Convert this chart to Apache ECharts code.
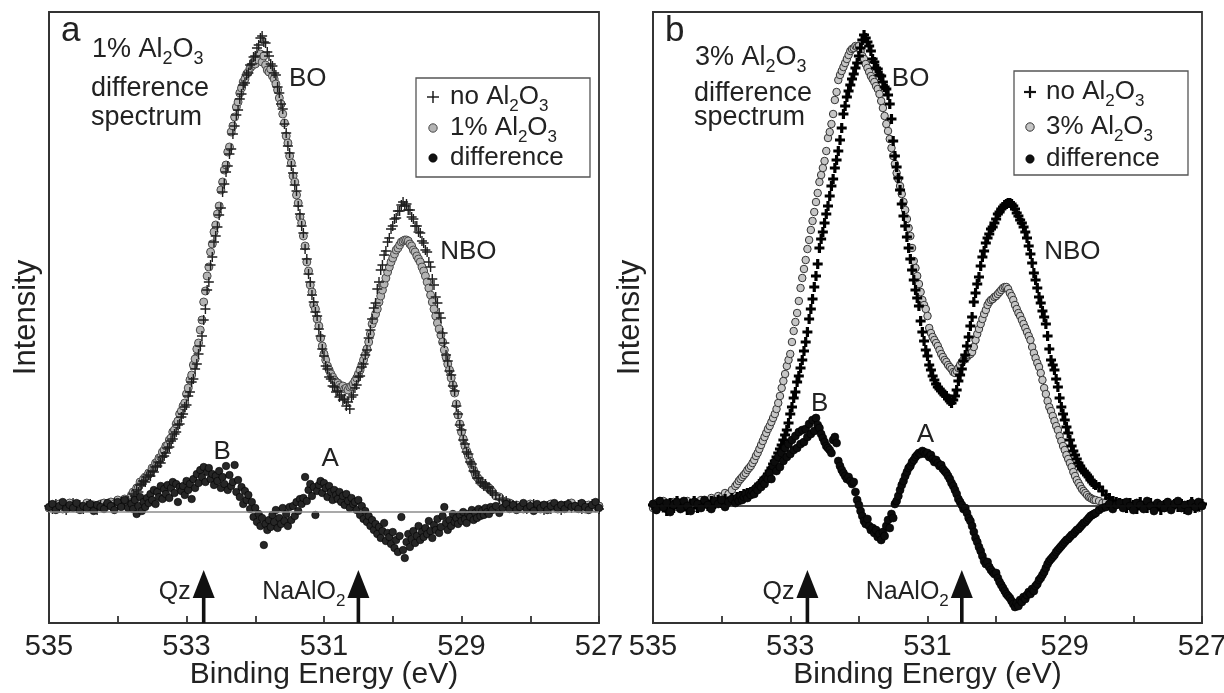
<!DOCTYPE html>
<html><head><meta charset="utf-8">
<script src="https://cdn.jsdelivr.net/npm/echarts@6/dist/echarts.min.js"></script>
<style>html,body{margin:0;padding:0;background:#fff}#c{width:1224px;height:693px}</style>
</head><body><div id="c"></div>
<script>
// ---- Binding energy grid (eV) shared by all spectra ----
const energy = [
535.00,534.95,534.90,534.85,534.80,534.75,534.70,534.65,
534.60,534.55,534.50,534.45,534.40,534.35,534.30,534.25,
534.20,534.15,534.10,534.05,534.00,533.95,533.90,533.85,
533.800,533.775,533.750,533.725,533.700,533.675,533.650,533.625,533.600,533.575,
533.550,533.525,533.500,533.475,533.450,533.425,533.400,533.375,533.350,533.325,
533.300,533.275,533.250,533.225,533.200,533.175,533.150,533.125,533.100,533.075,
533.050,533.025,533.000,532.975,532.950,532.925,532.900,532.875,532.850,532.825,
532.800,532.775,532.750,532.725,532.700,532.675,532.650,532.625,532.600,532.575,
532.550,532.525,532.500,532.475,532.450,532.425,532.400,532.375,532.350,532.325,
532.300,532.275,532.250,532.225,532.200,532.175,532.150,532.125,532.100,532.075,
532.050,532.025,532.000,531.975,531.950,531.925,531.900,531.875,531.850,531.825,
531.800,531.775,531.750,531.725,531.700,531.675,531.650,531.625,531.600,531.575,
531.550,531.525,531.500,531.475,531.450,531.425,531.400,531.375,531.350,531.325,
531.300,531.275,531.250,531.225,531.200,531.175,531.150,531.125,531.100,531.075,
531.050,531.025,531.000,530.975,530.950,530.925,530.900,530.875,530.850,530.825,
530.800,530.775,530.750,530.725,530.700,530.675,530.650,530.625,530.600,530.575,
530.550,530.525,530.500,530.475,530.450,530.425,530.400,530.375,530.350,530.325,
530.300,530.275,530.250,530.225,530.200,530.175,530.150,530.125,530.100,530.075,
530.050,530.025,530.000,529.975,529.950,529.925,529.900,529.875,529.850,529.825,
529.800,529.775,529.750,529.725,529.700,529.675,529.650,529.625,529.600,529.575,
529.550,529.525,529.500,529.475,529.450,529.425,529.400,529.375,529.350,529.325,
529.300,529.275,529.250,529.225,529.200,529.175,529.150,529.125,529.100,529.075,
529.050,529.025,529.000,528.975,528.950,528.925,528.900,528.875,528.850,528.825,
528.800,528.775,528.750,528.725,528.700,528.675,528.650,528.625,528.600,528.575,
528.55,528.50,528.45,528.40,528.35,528.30,528.25,528.20,
528.15,528.10,528.05,528.00,527.95,527.90,527.85,527.80,
527.75,527.70,527.65,527.60,527.55,527.50,527.45,527.40,
527.35,527.30,527.25,527.20,527.15,527.10,527.05,527.00
];

// ---- Panel a: intensities (arb. units) ----
const a_noAl2O3 = [
0.06,0.03,0.08,0.04,0.07,0.02,0.05,0.09,
0.04,0.07,0.03,0.06,0.08,0.05,0.02,0.07,
0.05,0.08,0.06,0.09,0.07,0.10,0.08,0.11,
0.12,0.18,0.16,0.22,0.20,0.27,0.28,0.31,0.30,0.35,
0.37,0.36,0.41,0.40,0.45,0.46,0.50,0.49,0.55,0.56,
0.59,0.64,0.65,0.71,0.73,0.78,0.80,0.87,0.88,0.95,
0.98,1.05,1.07,1.16,1.20,1.30,1.33,1.43,1.48,1.58,
1.66,1.76,1.92,2.03,2.22,2.30,2.47,2.55,2.70,2.76,
2.85,2.97,3.04,3.20,3.28,3.40,3.46,3.58,3.63,3.78,
3.86,3.97,4.02,4.13,4.18,4.27,4.29,4.37,4.39,4.47,
4.48,4.55,4.56,4.64,4.67,4.74,4.76,4.70,4.69,4.60,
4.56,4.48,4.46,4.39,4.37,4.25,4.19,4.08,4.03,3.88,
3.79,3.66,3.59,3.46,3.39,3.27,3.21,3.06,2.98,2.86,
2.79,2.63,2.53,2.38,2.30,2.17,2.10,2.00,1.96,1.83,
1.76,1.63,1.56,1.46,1.43,1.35,1.33,1.26,1.25,1.20,
1.21,1.15,1.17,1.12,1.13,1.06,1.10,1.03,1.15,1.17,
1.24,1.27,1.35,1.36,1.45,1.48,1.57,1.62,1.74,1.82,
1.93,2.04,2.09,2.23,2.30,2.42,2.47,2.57,2.61,2.70,
2.74,2.83,2.86,2.93,2.94,3.01,3.01,3.07,3.10,3.06,
3.08,3.02,3.02,2.95,2.93,2.86,2.86,2.80,2.79,2.71,
2.69,2.62,2.60,2.50,2.45,2.33,2.27,2.15,2.09,1.99,
1.94,1.79,1.69,1.57,1.51,1.41,1.37,1.26,1.21,1.06,
0.98,0.87,0.82,0.72,0.68,0.60,0.58,0.50,0.48,0.41,
0.40,0.34,0.34,0.29,0.30,0.26,0.28,0.24,0.25,0.21,
0.19,0.17,0.13,0.12,0.11,0.08,0.07,0.06,
0.04,0.07,0.03,0.06,0.08,0.04,0.05,0.02,
0.06,0.03,0.07,0.05,0.02,0.06,0.08,0.04,
0.05,0.07,0.03,0.06,0.04,0.08,0.05,0.03
];
const a_1pctAl2O3 = [
0.04,0.07,0.05,0.08,0.03,0.06,0.09,0.05,
0.07,0.04,0.06,0.09,0.04,0.07,0.06,0.08,
0.09,0.06,0.10,0.08,0.12,0.09,0.13,0.12,
0.17,0.20,0.19,0.24,0.25,0.30,0.29,0.33,0.35,0.36,
0.39,0.39,0.44,0.44,0.49,0.50,0.54,0.55,0.60,0.62,
0.66,0.67,0.72,0.74,0.80,0.82,0.88,0.91,0.98,1.01,
1.06,1.09,1.18,1.24,1.32,1.37,1.47,1.53,1.63,1.69,
1.82,1.92,2.10,2.21,2.36,2.45,2.60,2.68,2.80,2.87,
2.98,3.06,3.22,3.30,3.42,3.47,3.60,3.65,3.80,3.86,
3.95,4.05,4.10,4.19,4.24,4.30,4.33,4.38,4.40,4.44,
4.46,4.50,4.48,4.55,4.52,4.58,4.50,4.56,4.47,4.42,
4.40,4.43,4.36,4.33,4.28,4.22,4.14,4.08,3.98,3.89,
3.76,3.69,3.56,3.49,3.36,3.30,3.17,3.09,2.95,2.89,
2.76,2.66,2.50,2.41,2.27,2.20,2.07,2.03,1.93,1.86,
1.74,1.66,1.58,1.52,1.46,1.42,1.38,1.35,1.32,1.30,
1.29,1.27,1.25,1.26,1.23,1.24,1.22,1.25,1.26,1.28,
1.31,1.34,1.38,1.42,1.47,1.52,1.57,1.63,1.70,1.78,
1.88,1.92,1.98,2.03,2.10,2.16,2.22,2.28,2.34,2.40,
2.45,2.50,2.54,2.58,2.62,2.64,2.67,2.70,2.71,2.72,
2.72,2.71,2.68,2.66,2.62,2.60,2.56,2.53,2.50,2.45,
2.41,2.36,2.30,2.24,2.17,2.10,2.03,1.96,1.89,1.83,
1.77,1.70,1.62,1.55,1.48,1.42,1.34,1.27,1.19,1.08,
0.97,0.88,0.80,0.73,0.66,0.61,0.56,0.51,0.47,0.42,
0.38,0.35,0.33,0.30,0.29,0.27,0.26,0.25,0.24,0.22,
0.20,0.16,0.15,0.11,0.10,0.09,0.06,0.07,
0.05,0.03,0.06,0.08,0.04,0.06,0.03,0.07,
0.04,0.08,0.05,0.03,0.07,0.04,0.06,0.09,
0.06,0.04,0.08,0.03,0.07,0.05,0.04,0.06
];
const a_difference = [
0.05,0.08,0.02,0.06,0.10,0.03,0.07,0.04,
0.09,0.02,0.06,0.04,0.08,0.01,0.07,0.05,
0.03,0.09,0.06,0.02,0.10,0.05,0.12,0.04,
0.08,0.03,0.12,-0.02,0.06,0.15,0.01,0.10,0.05,0.14,
0.09,0.18,0.12,0.22,0.08,0.20,0.15,0.26,0.13,0.23,
0.18,0.27,0.14,0.24,0.30,0.19,0.28,0.10,0.25,0.21,
0.26,0.17,0.31,0.22,0.28,0.13,0.33,0.24,0.38,0.29,
0.42,0.35,0.45,0.30,0.40,0.44,0.33,0.38,0.27,0.36,
0.31,0.41,0.24,0.35,0.28,0.46,0.22,0.37,0.26,0.30,
0.47,0.20,0.32,0.15,0.25,0.08,0.21,0.12,0.17,0.03,
0.10,-0.05,0.04,-0.10,-0.02,-0.14,-0.06,-0.33,-0.12,-0.18,
-0.08,-0.15,-0.03,-0.10,0.02,-0.16,-0.06,-0.12,0.04,-0.09,
-0.02,-0.14,0.05,-0.08,0.06,-0.04,0.10,0.01,0.13,0.08,
0.14,0.35,0.11,0.22,0.28,0.16,0.25,-0.03,0.21,0.27,
0.31,0.19,0.29,0.24,0.15,0.26,0.20,0.12,0.22,0.17,
0.13,0.20,0.10,0.16,0.07,0.18,0.11,0.04,0.14,0.08,
0.10,0.02,0.12,-0.03,0.06,-0.07,0.01,-0.10,-0.04,-0.14,
-0.08,-0.18,-0.12,-0.22,-0.15,-0.26,-0.19,-0.11,-0.29,-0.21,
-0.25,-0.32,-0.20,-0.36,-0.28,-0.40,-0.24,-0.05,-0.38,-0.46,
-0.30,-0.22,-0.35,-0.27,-0.19,-0.31,-0.24,-0.14,-0.28,-0.20,
-0.25,-0.16,-0.22,-0.09,-0.19,-0.26,-0.13,-0.18,-0.07,-0.21,
-0.15,-0.04,0.05,-0.11,-0.18,-0.08,-0.14,-0.02,-0.10,-0.06,
-0.12,-0.03,-0.09,0.00,-0.07,-0.11,-0.02,-0.05,0.02,-0.08,
-0.01,-0.06,0.03,-0.04,0.01,-0.03,0.04,0.00,-0.02,0.05,
0.02,0.06,-0.01,0.04,0.08,0.03,0.07,0.02,
0.05,0.09,0.03,0.06,0.01,0.08,0.04,0.07,
0.02,0.06,0.09,0.04,0.07,0.03,0.08,0.05,
0.06,0.03,0.09,0.05,0.02,0.07,0.10,0.04
];

// ---- Panel b: intensities (arb. units) ----
const b_noAl2O3 = [
0.01,-0.03,0.04,0.00,-0.05,0.03,-0.02,0.05,
-0.01,0.03,-0.04,0.02,0.05,-0.02,0.01,0.04,
0.00,0.05,0.02,0.06,0.03,0.07,0.04,0.08,
0.06,0.09,0.07,0.10,0.09,0.12,0.11,0.13,0.12,0.14,
0.14,0.16,0.18,0.19,0.22,0.23,0.25,0.28,0.29,0.32,
0.35,0.38,0.42,0.45,0.49,0.53,0.57,0.61,0.66,0.71,
0.76,0.83,0.92,0.99,1.08,1.14,1.24,1.30,1.38,1.46,
1.55,1.64,1.74,1.87,1.97,2.07,2.19,2.30,2.42,2.58,
2.67,2.74,2.83,2.92,3.00,3.10,3.20,3.27,3.38,3.46,
3.55,3.66,3.78,3.92,4.00,4.09,4.15,4.21,4.27,4.32,
4.38,4.43,4.50,4.58,4.66,4.71,4.68,4.64,4.60,4.55,
4.47,4.44,4.38,4.37,4.31,4.30,4.24,4.19,4.17,4.11,
4.02,3.87,3.65,3.50,3.39,3.28,3.16,3.02,2.90,2.80,
2.69,2.58,2.47,2.36,2.26,2.16,2.08,2.00,1.85,1.74,
1.65,1.56,1.50,1.41,1.36,1.30,1.26,1.22,1.19,1.17,
1.15,1.13,1.11,1.10,1.07,1.05,1.03,1.06,1.10,1.16,
1.25,1.31,1.37,1.45,1.51,1.60,1.69,1.80,1.89,2.04,
2.13,2.22,2.29,2.40,2.49,2.55,2.63,2.68,2.72,2.77,
2.79,2.83,2.87,2.92,2.94,2.97,2.99,3.01,3.02,3.03,
3.03,3.02,3.00,2.97,2.93,2.90,2.86,2.83,2.79,2.74,
2.68,2.60,2.52,2.43,2.33,2.26,2.18,2.09,2.03,1.95,
1.89,1.82,1.70,1.57,1.46,1.41,1.36,1.27,1.19,1.08,
0.99,0.92,0.86,0.79,0.73,0.66,0.60,0.55,0.51,0.47,
0.43,0.40,0.37,0.35,0.33,0.31,0.29,0.26,0.24,0.22,
0.21,0.19,0.15,0.11,0.08,0.05,0.04,0.03,
0.02,-0.02,0.03,0.01,-0.03,0.04,0.00,-0.02,
0.03,-0.01,0.02,-0.04,0.01,0.03,-0.02,0.02,
-0.01,0.02,-0.03,0.01,0.04,-0.02,0.00,0.02
];
const b_3pctAl2O3 = [
-0.02,0.03,0.00,0.05,-0.03,0.02,0.04,-0.01,
0.03,0.00,0.05,0.02,-0.02,0.04,0.06,0.03,
0.05,0.08,0.06,0.10,0.09,0.13,0.12,0.16,
0.20,0.22,0.25,0.27,0.29,0.31,0.33,0.36,0.38,0.40,
0.43,0.46,0.50,0.53,0.57,0.61,0.65,0.69,0.73,0.77,
0.80,0.84,0.88,0.92,0.97,1.03,1.10,1.18,1.25,1.32,
1.40,1.46,1.52,1.64,1.75,1.84,1.93,2.05,2.18,2.28,
2.37,2.46,2.57,2.66,2.76,2.85,2.94,3.04,3.13,3.24,
3.31,3.38,3.45,3.55,3.68,3.74,3.82,3.92,4.06,4.14,
4.26,4.31,4.35,4.39,4.43,4.47,4.51,4.55,4.57,4.58,
4.60,4.59,4.60,4.55,4.50,4.47,4.42,4.38,4.34,4.30,
4.27,4.24,4.20,4.17,4.12,4.05,3.98,3.90,3.82,3.75,
3.67,3.58,3.50,3.42,3.33,3.27,3.20,3.12,3.04,2.96,
2.87,2.78,2.70,2.58,2.45,2.38,2.30,2.22,2.14,2.06,
2.01,1.97,1.90,1.78,1.73,1.69,1.66,1.63,1.60,1.56,
1.52,1.49,1.46,1.44,1.41,1.39,1.37,1.34,1.33,1.35,
1.38,1.41,1.44,1.46,1.48,1.49,1.51,1.52,1.54,1.59,
1.66,1.72,1.77,1.82,1.87,1.92,1.96,2.01,2.04,2.06,
2.07,2.09,2.10,2.12,2.14,2.16,2.18,2.19,2.19,2.17,
2.13,2.10,2.06,2.01,1.97,1.93,1.90,1.86,1.82,1.78,
1.74,1.70,1.66,1.59,1.53,1.48,1.43,1.39,1.33,1.26,
1.18,1.12,1.05,0.99,0.95,0.90,0.85,0.80,0.76,0.70,
0.65,0.60,0.56,0.51,0.47,0.43,0.39,0.34,0.30,0.26,
0.23,0.20,0.17,0.15,0.13,0.11,0.09,0.08,0.07,0.06,
0.06,0.05,0.03,0.04,0.02,0.03,0.01,0.02,
-0.01,0.02,0.00,-0.03,0.03,0.01,-0.02,0.02,
0.00,-0.03,0.02,0.01,-0.02,0.03,-0.01,0.02,
0.03,-0.02,0.01,-0.03,0.02,0.00,-0.02,0.01
];
const b_difference = [
0.02,-0.04,0.05,-0.01,0.03,-0.06,0.01,0.04,
-0.03,0.05,0.00,-0.05,0.04,0.02,-0.02,0.06,
0.01,-0.03,0.05,0.02,0.06,-0.01,0.04,0.07,
0.03,0.08,0.05,0.10,0.06,0.09,0.12,0.08,0.13,0.11,
0.15,0.12,0.18,0.16,0.21,0.19,0.25,0.22,0.29,0.27,
0.33,0.27,0.40,0.44,0.35,0.49,0.39,0.53,0.45,0.58,
0.49,0.62,0.52,0.66,0.56,0.70,0.58,0.74,0.62,0.76,
0.64,0.77,0.69,0.82,0.72,0.86,0.75,0.88,0.81,0.78,
0.72,0.68,0.64,0.60,0.58,0.56,0.53,0.66,0.69,0.63,
0.45,0.40,0.36,0.33,0.30,0.27,0.29,0.25,0.22,0.24,
0.14,0.06,0.01,-0.05,-0.10,-0.15,-0.18,-0.13,-0.20,-0.24,
-0.22,-0.27,-0.24,-0.31,-0.28,-0.34,-0.26,-0.30,-0.20,-0.14,
-0.22,-0.08,-0.12,0.02,0.05,0.10,0.16,0.21,0.25,0.30,
0.34,0.38,0.40,0.44,0.46,0.49,0.51,0.53,0.52,0.55,
0.54,0.52,0.53,0.49,0.51,0.47,0.44,0.46,0.43,0.40,
0.41,0.37,0.35,0.33,0.30,0.27,0.23,0.20,0.16,0.12,
0.07,0.04,0.01,-0.03,-0.02,-0.07,-0.12,-0.15,-0.20,-0.26,
-0.32,-0.36,-0.41,-0.45,-0.50,-0.55,-0.58,-0.56,-0.61,-0.64,
-0.66,-0.68,-0.67,-0.72,-0.76,-0.79,-0.82,-0.85,-0.88,-0.90,
-0.92,-0.95,-0.98,-1.01,-0.97,-1.00,-0.94,-0.96,-0.91,-0.93,
-0.89,-0.86,-0.88,-0.83,-0.85,-0.80,-0.78,-0.74,-0.72,-0.69,
-0.66,-0.62,-0.58,-0.55,-0.53,-0.51,-0.49,-0.46,-0.44,-0.42,
-0.40,-0.38,-0.36,-0.34,-0.33,-0.31,-0.29,-0.28,-0.26,-0.24,
-0.23,-0.21,-0.19,-0.17,-0.16,-0.14,-0.12,-0.10,-0.09,-0.08,
-0.07,-0.04,-0.02,-0.01,0.02,-0.03,0.01,0.03,
-0.02,0.04,0.00,-0.04,0.03,0.01,-0.03,0.05,
0.00,-0.05,0.03,0.01,-0.02,0.04,-0.04,0.02,
0.05,-0.02,0.01,-0.05,0.03,-0.01,0.04,0.00
];

// ---- axis tick labels and reference energies ----
const xTickLabels = [535, 533, 531, 529, 527];
const refArrows = [ {label: 'Qz', E: 532.75}, {label: 'NaAlO{s|2}', E: 530.5} ];
const peakLabelsA = [ {t:'BO', E:531.51, I:4.33, align:'left'}, {t:'NBO', E:529.31, I:2.60, align:'left'}, {t:'B', E:532.48, I:0.60, align:'center'}, {t:'A', E:530.91, I:0.53, align:'center'} ];
const peakLabelsB = [ {t:'BO', E:531.52, I:4.27, align:'left'}, {t:'NBO', E:529.30, I:2.54, align:'left'}, {t:'B', E:532.57, I:1.02, align:'center'}, {t:'A', E:531.03, I:0.71, align:'center'} ];

[a_noAl2O3, a_1pctAl2O3, a_difference, b_noAl2O3, b_3pctAl2O3, b_difference].forEach((arr, i) => {
  if (arr.length !== energy.length) throw new Error('series ' + i + ' length ' + arr.length + ' vs ' + energy.length);
});

const FONT = '"Liberation Sans", Arial, Helvetica, sans-serif';
const TXT = '#222';
const PLUS_THIN = 'path://M4.3,0H5.7V4.3H10V5.7H5.7V10H4.3V5.7H0V4.3H4.3Z';
const PLUS_BOLD = 'path://M3.4,0H6.6V3.4H10V6.6H6.6V10H3.4V6.6H0V3.4H3.4Z';
const pairs = arr => energy.map((e, i) => [e, arr[i]]);

const panels = [
  { grid: {left: 49, top: 12, width: 550, height: 611}, yMin: -1.11, yMax: 5.00, baseColor: '#8c8c8c',
    letter: 'a', pct: '1%', peaks: peakLabelsA,
    legend: {x: 416, y: 78, w: 174, h: 99, rows: [19, 50, 80], sym: 17, text: 34},
    titleLines: {x: 91, ys: [50, 89, 118]},
    circle: {fill: '#b4b4b4', border: '#4a4a4a', size: 8},
    plus: {path: PLUS_THIN, size: 10, color: '#1e1e1e'},
    diff: {color: '#262626', size: 7.5},
    series: [a_1pctAl2O3, a_noAl2O3, a_difference]
  },
  { grid: {left: 653, top: 12, width: 549, height: 611}, yMin: -1.17, yMax: 4.94, baseColor: '#111',
    letter: 'b', pct: '3%', peaks: peakLabelsB,
    legend: {x: 1014, y: 71, w: 174, h: 104, rows: [21, 56, 88], sym: 16, text: 32},
    titleLines: {x: 694, ys: [58, 94, 118]},
    circle: {fill: '#c6c6c6', border: '#333', size: 7.5},
    plus: {path: PLUS_BOLD, size: 10, color: '#000'},
    diff: {color: '#0c0c0c', size: 8},
    series: [b_3pctAl2O3, b_noAl2O3, b_difference]
  }
];

const chart = echarts.init(document.getElementById('c'), null, {renderer: 'canvas', width: 1224, height: 693});

const option = { animation: false, backgroundColor: '#fff', grid: [], xAxis: [], yAxis: [], series: [] };
panels.forEach((p, i) => {
  option.grid.push(Object.assign({show: true, borderColor: '#333', borderWidth: 1.8, backgroundColor: 'transparent',
    containLabel: false, outerBoundsMode: 'none'}, p.grid));
  option.xAxis.push({
    gridIndex: i, type: 'value', min: 527, max: 535, interval: 1, inverse: true, position: 'bottom',
    axisLine: {show: true, onZero: false, lineStyle: {color: '#333', width: 1.8}},
    axisTick: {show: true, inside: true, length: 7, lineStyle: {color: '#333', width: 1.8}},
    axisLabel: {show: true, fontSize: 29, color: TXT, fontFamily: FONT, margin: 9,
      formatter: v => xTickLabels.indexOf(Math.round(v)) >= 0 ? String(Math.round(v)) : ''},
    splitLine: {show: false},
    name: 'Binding Energy (eV)', nameLocation: 'middle', nameGap: 37, nameMoveOverlap: false,
    nameTextStyle: {fontSize: 30, color: TXT, fontFamily: FONT}
  });
  option.yAxis.push({
    gridIndex: i, type: 'value', min: p.yMin, max: p.yMax,
    axisLine: {show: true, onZero: false, lineStyle: {color: '#333', width: 1.8}},
    axisTick: {show: false}, axisLabel: {show: false}, splitLine: {show: false},
    name: 'Intensity', nameLocation: 'middle', nameGap: 7, nameRotate: 90, nameMoveOverlap: false,
    nameTextStyle: {fontSize: 31, color: TXT, fontFamily: FONT}
  });
  // zero line
  option.series.push({
    type: 'scatter', xAxisIndex: i, yAxisIndex: i, data: [], silent: true, z: 1,
    markLine: {silent: true, symbol: ['none', 'none'], label: {show: false},
      lineStyle: {color: p.baseColor, width: 1.5, type: 'solid'}, data: [{yAxis: 0}], animation: false}
  });
  option.series.push({
    type: 'scatter', name: p.letter + '-pct', xAxisIndex: i, yAxisIndex: i, data: pairs(p.series[0]), z: 2,
    symbol: 'circle', symbolSize: p.circle.size,
    itemStyle: {color: p.circle.fill, borderColor: p.circle.border, borderWidth: 1, opacity: 1}
  });
  option.series.push({
    type: 'scatter', name: p.letter + '-no', xAxisIndex: i, yAxisIndex: i, data: pairs(p.series[1]), z: 3,
    symbol: p.plus.path, symbolSize: p.plus.size,
    itemStyle: {color: p.plus.color, opacity: 1}
  });
  option.series.push({
    type: 'scatter', name: p.letter + '-diff', xAxisIndex: i, yAxisIndex: i, data: pairs(p.series[2]), z: 4,
    symbol: 'circle', symbolSize: p.diff.size,
    itemStyle: {color: p.diff.color, borderColor: '#000', borderWidth: 0.6, opacity: 1}
  });
});
chart.setOption(option);

function rich(size) {
  const sub = Math.round(size * 0.66);
  return { s: { fontSize: sub, fontFamily: FONT, fill: TXT, color: TXT, lineHeight: sub, padding: [Math.round(size * 0.72), 0, 0, 0] } };
}
function txt(x, y, text, size, align) {
  return { type: 'text', x: x, y: y, z: 100, silent: true,
    style: { text: text, fill: TXT, fontSize: size, fontFamily: FONT, font: size + 'px ' + FONT,
      align: align || 'left', textAlign: align || 'left', verticalAlign: 'middle', textVerticalAlign: 'middle',
      rich: rich(size) } };
}

const graphics = [];
panels.forEach((p, pi) => {
  const px = (e, v) => chart.convertToPixel({gridIndex: pi}, [e, v]);
  const bottom = px(535, p.yMin)[1];
  // panel letter and title block
  graphics.push(txt(p.grid.left + 12, 31, p.letter, 35, 'left'));
  graphics.push(txt(p.titleLines.x + 1, p.titleLines.ys[0], p.pct + ' Al{s|2}O{s|3}', 27, 'left'));
  graphics.push(txt(p.titleLines.x, p.titleLines.ys[1], 'difference', 27, 'left'));
  graphics.push(txt(p.titleLines.x, p.titleLines.ys[2], 'spectrum', 27, 'left'));
  // peak labels
  p.peaks.forEach(l => { const q = px(l.E, l.I); graphics.push(txt(q[0], q[1], l.t, 26, l.align)); });
  // reference arrows
  refArrows.forEach(r => {
    const x = px(r.E, 0)[0];
    const tip = bottom - 53, headH = 28, headW = 22;
    graphics.push({ type: 'line', z: 90, silent: true, shape: {x1: x, y1: bottom, x2: x, y2: tip + headH - 2},
      style: {stroke: '#111', lineWidth: 3.6} });
    graphics.push({ type: 'polygon', z: 90, silent: true,
      shape: {points: [[x, tip], [x - headW / 2, tip + headH], [x + headW / 2, tip + headH]]},
      style: {fill: '#111'} });
    graphics.push(txt(x - 13, bottom - 31, r.label, 25, 'right'));
  });
  // legend
  const L = p.legend;
  graphics.push({ type: 'rect', z: 95, silent: true, shape: {x: L.x, y: L.y, width: L.w, height: L.h},
    style: {fill: '#fff', stroke: '#555', lineWidth: 1.3} });
  const sx = L.x + L.sym, tx = L.x + L.text;
  const r0 = L.y + L.rows[0], r1 = L.y + L.rows[1], r2 = L.y + L.rows[2];
  const pw = pi === 0 ? 1.4 : 2.2;
  graphics.push({ type: 'line', z: 101, silent: true, shape: {x1: sx - 6, y1: r0, x2: sx + 6, y2: r0}, style: {stroke: '#111', lineWidth: pw} });
  graphics.push({ type: 'line', z: 101, silent: true, shape: {x1: sx, y1: r0 - 6, x2: sx, y2: r0 + 6}, style: {stroke: '#111', lineWidth: pw} });
  graphics.push(txt(tx, r0, 'no Al{s|2}O{s|3}', 26, 'left'));
  graphics.push({ type: 'circle', z: 101, silent: true, shape: {cx: sx, cy: r1, r: 4.2}, style: {fill: p.circle.fill, stroke: p.circle.border, lineWidth: 1} });
  graphics.push(txt(tx, r1, p.pct + ' Al{s|2}O{s|3}', 26, 'left'));
  graphics.push({ type: 'circle', z: 101, silent: true, shape: {cx: sx, cy: r2, r: 4.2}, style: {fill: '#111', stroke: '#000', lineWidth: 0.6} });
  graphics.push(txt(tx, r2, 'difference', 26, 'left'));
});
chart.setOption({ graphic: graphics });
</script>
</body></html>
